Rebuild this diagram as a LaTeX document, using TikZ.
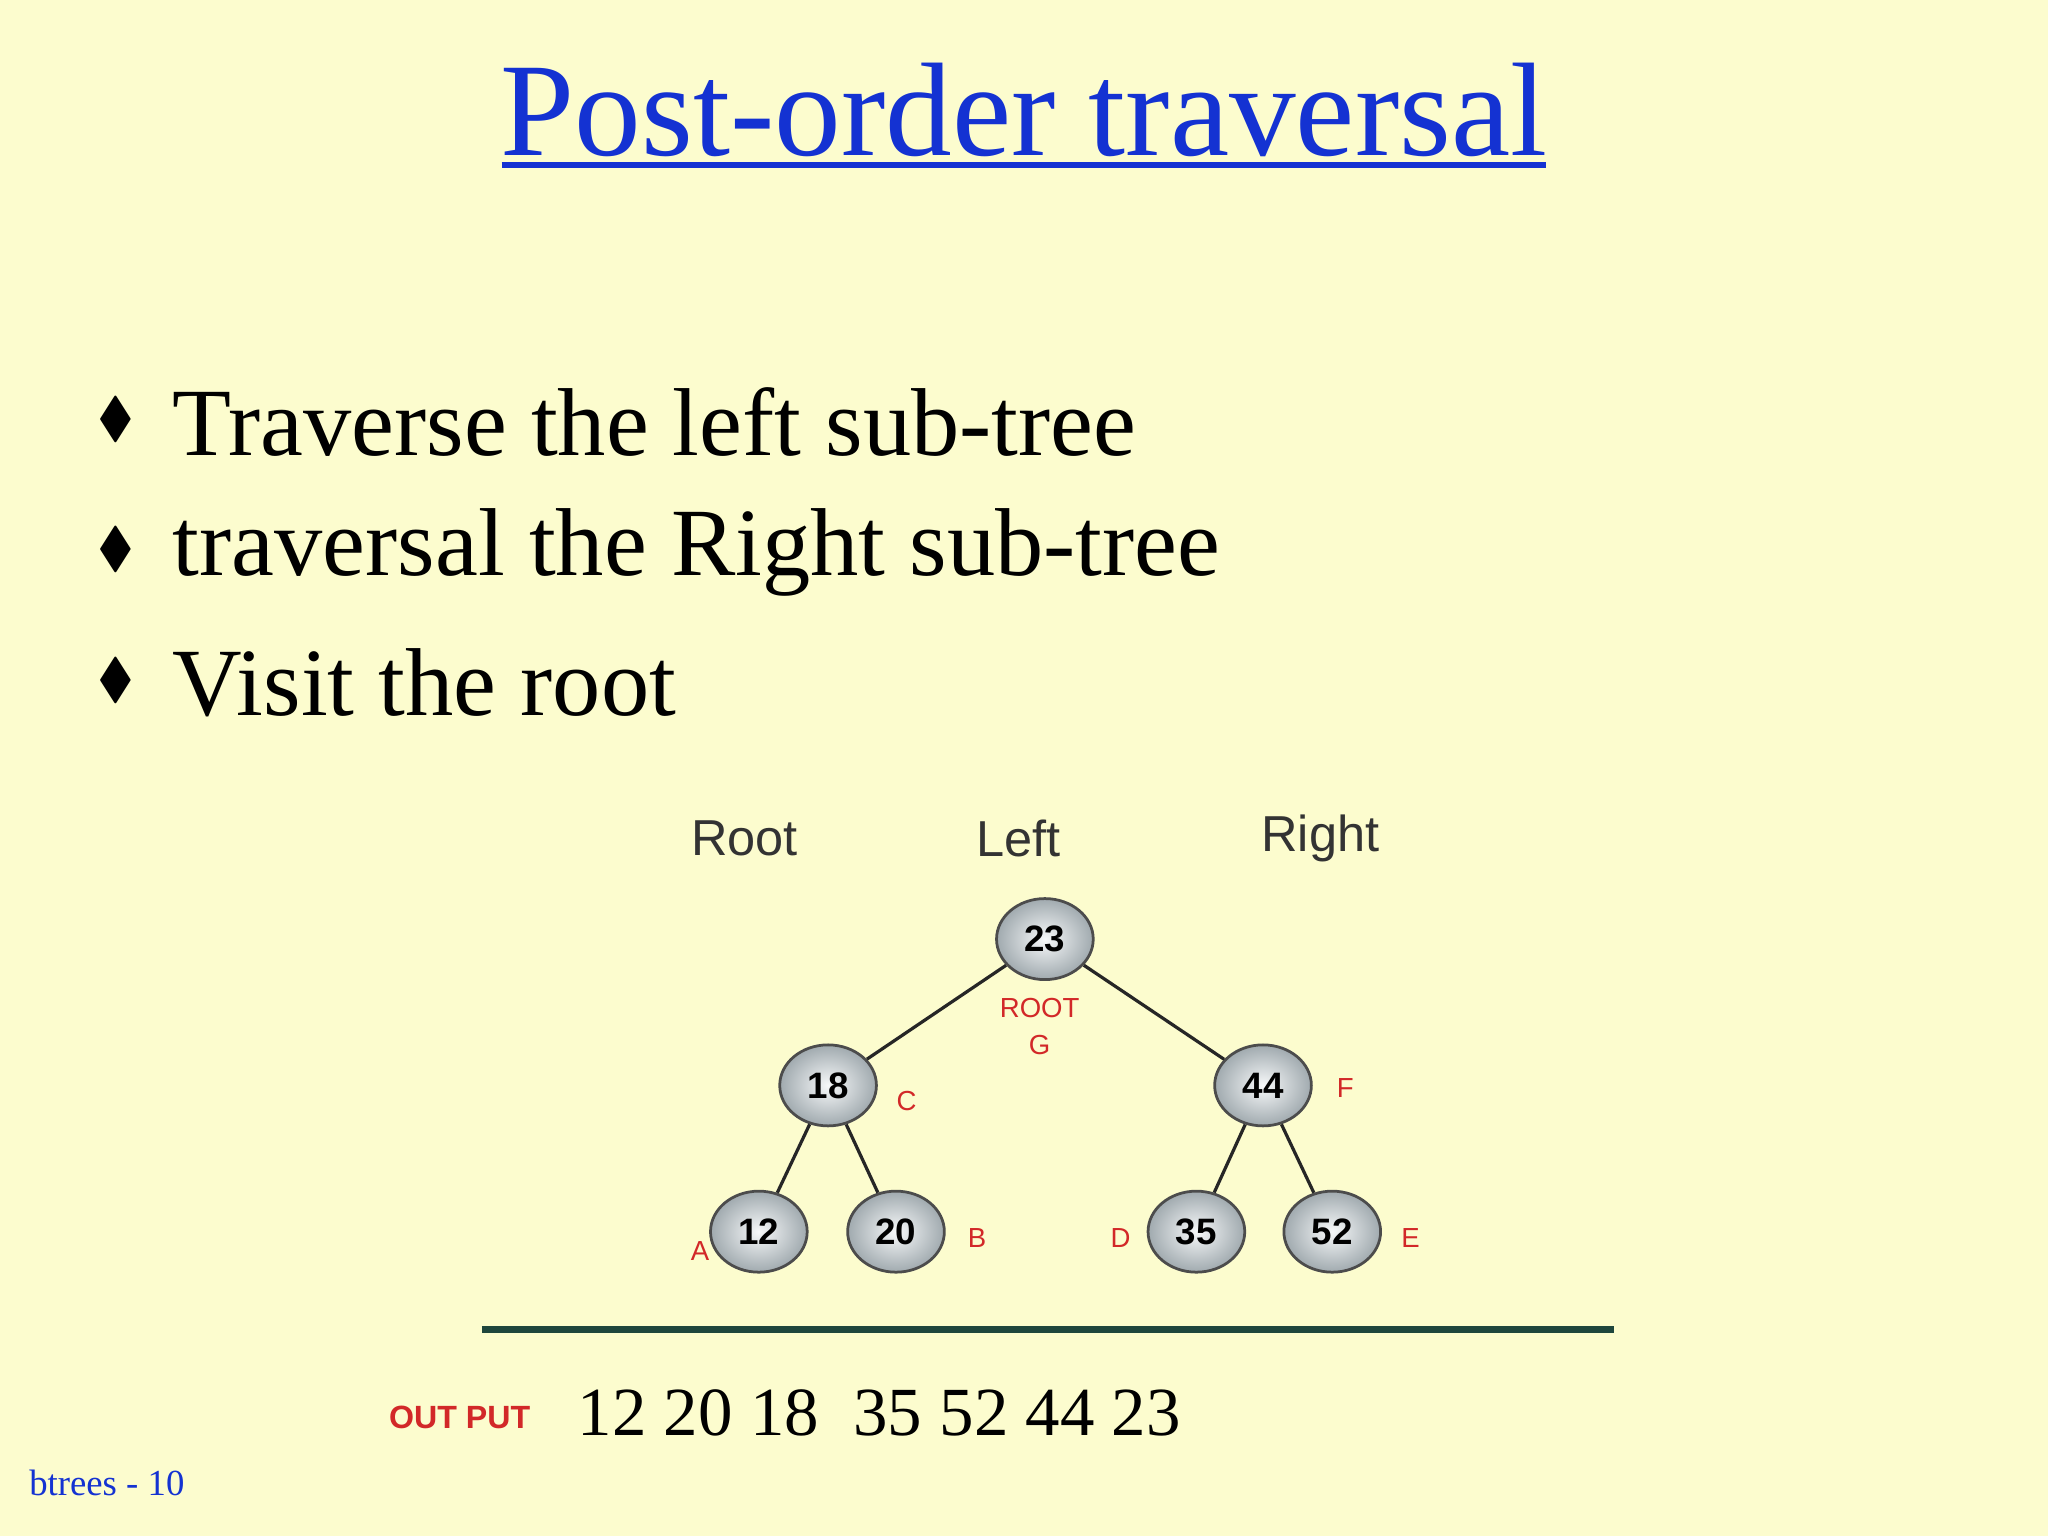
\documentclass[tikz,border=0pt]{standalone}
\usepackage{fontspec}
\usepackage{amssymb}
\setmainfont{Liberation Serif}
\newfontfamily\sansf{Liberation Sans}
\usetikzlibrary{shapes.geometric}
\definecolor{bgc}{RGB}{252,252,206}
\definecolor{titleblue}{RGB}{20,50,210}
\definecolor{lblred}{RGB}{210,40,40}
\definecolor{nodefill}{RGB}{200,212,218}
\definecolor{linec}{RGB}{30,70,60}
\tikzset{
  tnode/.style={ellipse, draw=black!70, line width=0.6pt, minimum width=0.74cm, minimum height=0.62cm, inner sep=0pt, shade, inner color=white!85!nodefill, outer color=nodefill!80!black, font=\sansf\fontsize{8}{8}\selectfont\bfseries},
  lbl/.style={text=lblred, font=\sansf\fontsize{6}{6}\selectfont},
  hdr/.style={font=\sansf\fontsize{11}{11}\selectfont, text=black!80},
  bul/.style={anchor=west, font=\fontsize{21}{21}\selectfont},
  edge/.style={line width=0.7pt, black!85}
}
\begin{document}
\begin{tikzpicture}[x=0.01cm,y=-0.01cm]
\fill[bgc] (0,0) rectangle (1568,1176);
\useasboundingbox (0,0) rectangle (1568,1176);
\node[text=titleblue, font=\fontsize{29}{29}\selectfont] (title) at (784,84) {Post-order traversal};
\draw[titleblue, line width=1.3pt] (384,126) -- (1184,126);
\foreach \y/\t [count=\i] in {323/Traverse the left sub-tree, 423/traversal the Right sub-tree, 523/Visit the root}{
  \node[font=\fontsize{12}{12}\selectfont] (d\i) at (89,\y-2) {$\blacklozenge$};
  \node[bul] (b\i) at (120,\y) {\t};
}
\node[hdr] (hroot) at (570,642) {Root};
\node[hdr] (hleft) at (780,642) {Left};
\node[hdr] (hright) at (1011,642) {Right};
\node[tnode] (n23) at (800,719) {23};
\node[tnode] (n18) at (634,831) {18};
\node[tnode] (n44) at (967,831) {44};
\node[tnode] (n12) at (581,943) {12};
\node[tnode] (n20) at (686,943) {20};
\node[tnode] (n35) at (916,943) {35};
\node[tnode] (n52) at (1020,943) {52};
\draw[edge] (n23) -- (n18);
\draw[edge] (n23) -- (n44);
\draw[edge] (n18) -- (n12);
\draw[edge] (n18) -- (n20);
\draw[edge] (n44) -- (n35);
\draw[edge] (n44) -- (n52);
\node[lbl, align=center] (lg) at (796,786) {ROOT\\[2pt]G};
\node[lbl] (lc) at (694,843) {C};
\node[lbl] (lf) at (1030,833) {F};
\node[lbl] (la) at (536,958) {A};
\node[lbl] (lb) at (748,948) {B};
\node[lbl] (ld) at (858,948) {D};
\node[lbl] (le) at (1080,948) {E};
\coordinate (l1) at (369,1018);
\coordinate (l2) at (1236,1018);
\draw[linec, line width=1.4pt] (l1) -- (l2);
\node[text=lblred, font=\sansf\fontsize{7}{7}\selectfont\bfseries] (op) at (352,1085) {OUT PUT};
\node[anchor=west, font=\fontsize{15}{15}\selectfont] (seq) at (430,1082) {12 20 18\ \ 35 52 44 23};
\node[anchor=west, text=titleblue, font=\fontsize{8}{8}\selectfont] (foot) at (10,1135) {btrees - 10};
\end{tikzpicture}
\end{document}
